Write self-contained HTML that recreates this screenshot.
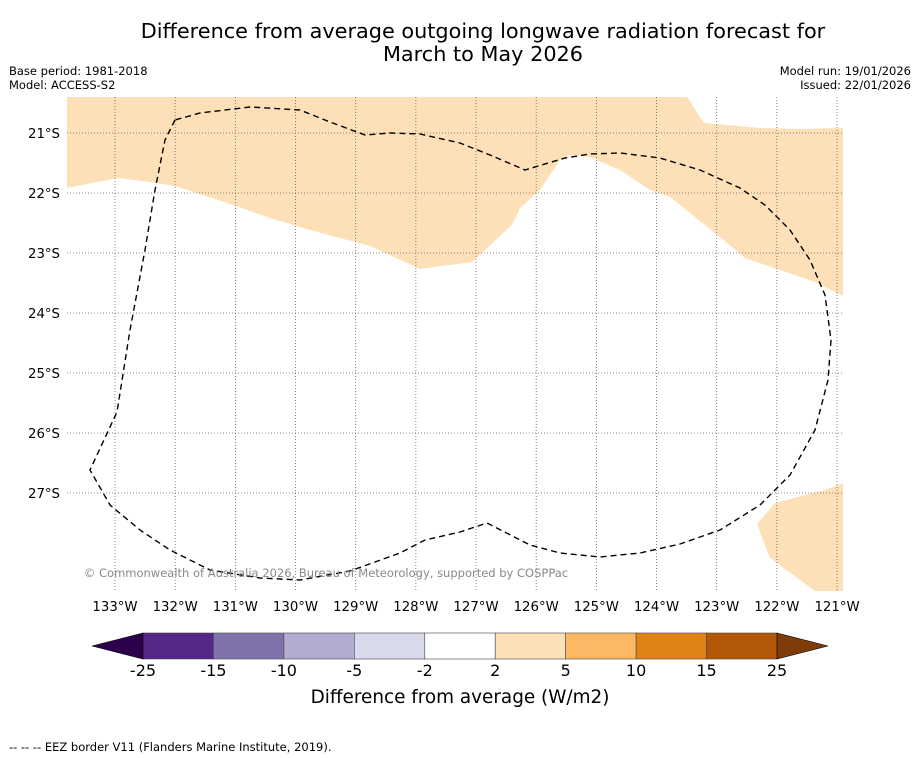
<!DOCTYPE html>
<html><head><meta charset="utf-8"><style>
body{margin:0;background:#fff;width:919px;height:758px;overflow:hidden;font-family:"DejaVu Sans","Liberation Sans",sans-serif}
</style></head><body>
<svg width="919" height="758" style="position:absolute;left:0;top:0;font-family:'DejaVu Sans','Liberation Sans',sans-serif">
<text x="483" y="38" text-anchor="middle" font-size="20.8">Difference from average outgoing longwave radiation forecast for</text>
<text x="483" y="61" text-anchor="middle" font-size="20.8">March to May 2026</text>
<text x="9" y="75" font-size="11.5">Base period: 1981-2018</text>
<text x="9" y="89" font-size="11.5">Model: ACCESS-S2</text>
<text x="911" y="75" font-size="11.5" text-anchor="end">Model run: 19/01/2026</text>
<text x="911" y="89" font-size="11.5" text-anchor="end">Issued: 22/01/2026</text>
<defs><clipPath id="mc"><rect x="67" y="97" width="776" height="494"/></clipPath></defs>
<g clip-path="url(#mc)">
<polygon fill="#fde0b7" points="67,97 687,97 704,123 760,128 800,129 843,128 843,296 815,282 745,258 720,237 670,197 650,190 620,170 590,157 570,155 560,160 540,190 520,208 512,225 472,262 420,269 370,246 310,230 270,218 230,204 175,186 150,182 118,178 67,188"/>
<polygon fill="#fde0b7" points="843,483 825,490 775,503 757,524 770,558 815,591 843,591"/>
<g id="grid"></g>
<polygon fill="none" stroke="#000" stroke-width="1.4" stroke-dasharray="6,4" points="175,120 165,140 155,190 145,250 130,330 117,412 90,470 110,505 140,530 170,550 210,570 260,578 300,580 350,571 400,553 425,540 460,532 487,523 530,545 560,553 600,557 640,553 680,544 720,530 760,505 790,475 815,430 828,380 831,340 825,295 810,260 790,230 765,205 740,188 700,170 660,158 620,153 590,154 565,158 525,170 490,155 460,143 420,134 390,133 365,135 330,122 300,110 250,107 200,113"/>
</g>
<text x="326" y="577" text-anchor="middle" font-size="11.5" fill="#888">© Commonwealth of Australia 2026, Bureau of Meteorology, supported by COSPPac</text>
<g id="ticks" font-size="13.3"></g>
<g id="cbar"></g>
<text x="460" y="703" text-anchor="middle" font-size="18.4">Difference from average (W/m2)</text>
<text x="9" y="751" font-size="11.5">--  --  -- EEZ border V11 (Flanders Marine Institute, 2019).</text>
</svg>
<script>
const lonTicks=[133,132,131,130,129,128,127,126,125,124,123,122,121];
const latTicks=[21,22,23,24,25,26,27];
const cbLevels=["-25","-15","-10","-5","-2","2","5","10","15","25"];
const cbColors=["#542788","#8073ac","#b2abd2","#d8daeb","#ffffff","#fee0b6","#fdb863","#e08214","#b35806"];
const cbExtend=["#2d004b","#7f3b08"];
const NS="http://www.w3.org/2000/svg";
const xLon=l=>115+(133-l)*60.17, yLat=l=>133+(l-21)*60;
function mk(t,a,p){const e=document.createElementNS(NS,t);for(const k in a)e.setAttribute(k,a[k]);p.appendChild(e);return e;}
const g=document.getElementById('grid'),tk=document.getElementById('ticks'),cb=document.getElementById('cbar');
lonTicks.forEach(l=>{const x=xLon(l);
 const ln=mk('line',{x1:x,x2:x,y1:97,y2:591,stroke:'#666','stroke-width':0.8,'stroke-dasharray':'1,2'},g);
 
 const t=mk('text',{x:x,y:611,'text-anchor':'middle'},tk);t.textContent=l+'°W';
 });
latTicks.forEach(l=>{const y=yLat(l);
 const ln=mk('line',{x1:67,x2:843,y1:y,y2:y,stroke:'#666','stroke-width':0.8,'stroke-dasharray':'1,2'},g);
 
 const t=mk('text',{x:60,y:y+5,'text-anchor':'end'},tk);t.textContent=l+'°S';
 });
const x0=143,x1=777,y0=633,h=26,n=cbColors.length,w=(x1-x0)/n;
cbColors.forEach((c,i)=>{const r=mk('rect',{x:x0+i*w,y:y0,width:w,height:h,fill:c,stroke:'#444','stroke-width':0.6},cb);
 });
const la=mk('polygon',{points:`${x0},${y0} 92,${y0+h/2} ${x0},${y0+h}`,fill:cbExtend[0],stroke:'#000','stroke-width':0.6},cb);

const ra=mk('polygon',{points:`${x1},${y0} 828,${y0+h/2} ${x1},${y0+h}`,fill:cbExtend[1],stroke:'#000','stroke-width':0.6},cb);

cbLevels.forEach((v,i)=>{const t=mk('text',{x:x0+i*w,y:676,'text-anchor':'middle','font-size':16},cb);t.textContent=v;
 });
</script>
</body></html>
